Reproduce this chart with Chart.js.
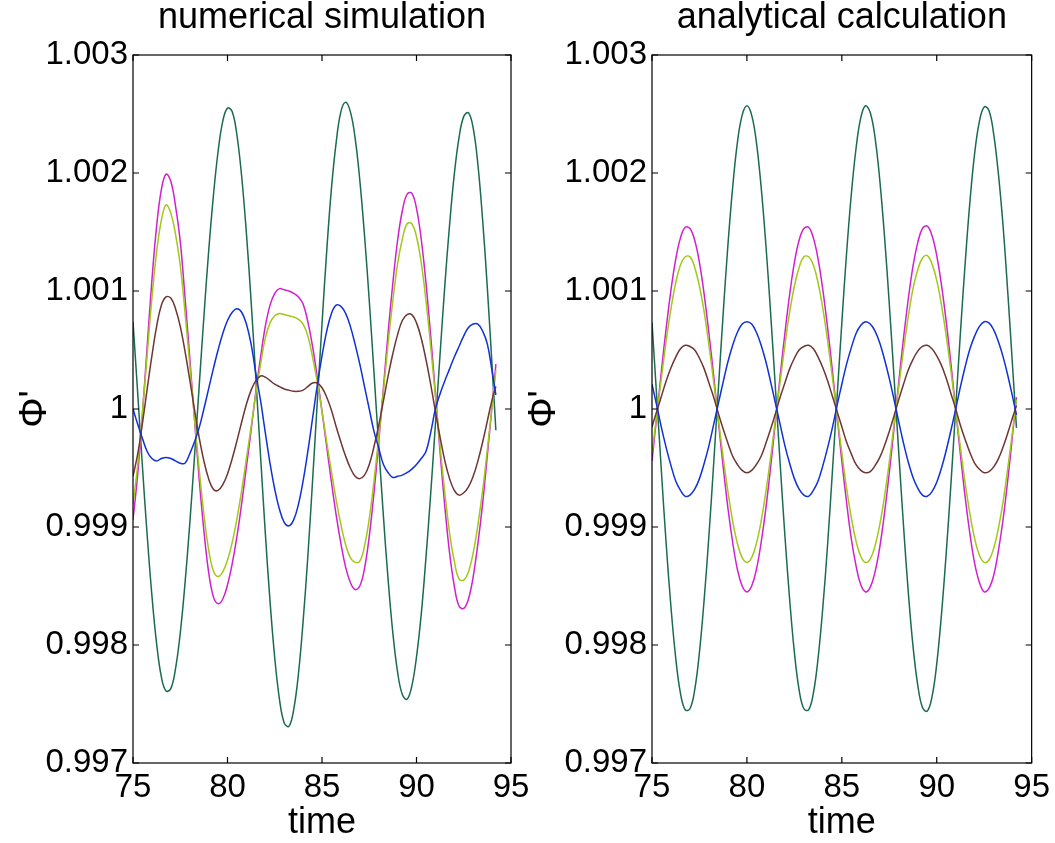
<!DOCTYPE html>
<html>
<head>
<meta charset="utf-8">
<script src="https://cdn.jsdelivr.net/npm/chart.js@4"></script>
<style>
  body { margin: 0; background: #fff; }
  #wrap { position: relative; width: 1055px; height: 843px; overflow: hidden; }
  canvas { position: absolute; top: 0; }
  #numChart { left: 0; }
  #anaChart { left: 520px; }
</style>
</head>
<body>
<div id="wrap">
  <canvas id="numChart" width="540" height="843"></canvas>
  <canvas id="anaChart" width="535" height="843"></canvas>
</div>
<script>
// time grid shared by every curve
const time = [75, 75.25, 75.5, 75.75, 76, 76.25, 76.5, 76.75, 77, 77.25, 77.5, 77.75, 78, 78.25, 78.5, 78.75, 79, 79.25, 79.5, 79.75, 80,
  80.25, 80.5, 80.75, 81, 81.25, 81.5, 81.75, 82, 82.25, 82.5, 82.75, 83, 83.25, 83.5, 83.75, 84, 84.25, 84.5, 84.75, 85,
  85.25, 85.5, 85.75, 86, 86.25, 86.5, 86.75, 87, 87.25, 87.5, 87.75, 88, 88.25, 88.5, 88.75, 89, 89.25, 89.5, 89.75, 90,
  90.25, 90.5, 90.75, 91, 91.25, 91.5, 91.75, 92, 92.25, 92.5, 92.75, 93, 93.25, 93.5, 93.75, 94, 94.2];

const xTickValues = [75, 80, 85, 90, 95];
const xTickLabels = ['75', '80', '85', '90', '95'];
const yTickValues = [0.997, 0.998, 0.999, 1, 1.001, 1.002, 1.003];
const yTickLabels = ['0.997', '0.998', '0.999', '1', '1.001', '1.002', '1.003'];

// numerical simulation
const numGreen = [1.00074, 1.00013, 0.99951, 0.99893, 0.99842, 0.99801, 0.99773, 0.99761, 0.99763, 0.99780, 0.99810, 0.99852, 0.99902, 0.99959, 1.00019, 1.00078, 1.00133, 1.00180, 1.00218, 1.00244, 1.00255,
  1.00252, 1.00232, 1.00197, 1.00149, 1.00091, 1.00026, 0.99960, 0.99895, 0.99837, 0.99789, 0.99754, 0.99734, 0.99731, 0.99745, 0.99775, 0.99820, 0.99875, 0.99939, 1.00006, 1.00072,
  1.00134, 1.00187, 1.00226, 1.00252, 1.00260, 1.00252, 1.00230, 1.00194, 1.00147, 1.00092, 1.00031, 0.99969, 0.99909, 0.99855, 0.99810, 0.99777, 0.99758, 0.99754, 0.99765, 0.99790,
  0.99826, 0.99874, 0.99928, 0.99987, 1.00047, 1.00105, 1.00156, 1.00199, 1.00230, 1.00248, 1.00251, 1.00238, 1.00207, 1.00160, 1.00102, 1.00036, 0.99982];
const numMagenta = [0.99906, 0.99945, 0.99996, 1.00053, 1.00109, 1.00155, 1.00186, 1.00199, 1.00193, 1.00172, 1.00142, 1.00095, 1.00044, 0.99992, 0.99941, 0.99897, 0.99862, 0.99841, 0.99835, 0.99839, 0.99851,
  0.99869, 0.99892, 0.99920, 0.99951, 0.99982, 1.00015, 1.00044, 1.00070, 1.00088, 1.00098, 1.00102, 1.00101, 1.00100, 1.00098, 1.00095, 1.00089, 1.00074, 1.00053, 1.00027, 0.99998,
  0.99968, 0.99938, 0.99910, 0.99886, 0.99866, 0.99853, 0.99847, 0.99850, 0.99865, 0.99892, 0.99929, 0.99972, 1.00018, 1.00065, 1.00107, 1.00143, 1.00168, 1.00182, 1.00183, 1.00170,
  1.00144, 1.00107, 1.00062, 1.00013, 0.99963, 0.99917, 0.99878, 0.99850, 0.99833, 0.99831, 0.99839, 0.99858, 0.99886, 0.99920, 0.99961, 1.00003, 1.00038];
const numYellow = [0.99919, 0.99953, 0.99997, 1.00046, 1.00094, 1.00133, 1.00160, 1.00173, 1.00166, 1.00148, 1.00122, 1.00082, 1.00038, 0.99993, 0.99949, 0.99911, 0.99881, 0.99863, 0.99858, 0.99862, 0.99872,
  0.99887, 0.99907, 0.99931, 0.99958, 0.99985, 1.00013, 1.00038, 1.00060, 1.00073, 1.00079, 1.00081, 1.00080, 1.00079, 1.00078, 1.00076, 1.00072, 1.00062, 1.00044, 1.00023, 0.99998,
  0.99972, 0.99947, 0.99923, 0.99902, 0.99885, 0.99874, 0.99870, 0.99871, 0.99884, 0.99907, 0.99939, 0.99976, 1.00015, 1.00056, 1.00092, 1.00123, 1.00144, 1.00157, 1.00157, 1.00146,
  1.00124, 1.00092, 1.00053, 1.00011, 0.99968, 0.99929, 0.99895, 0.99871, 0.99856, 0.99855, 0.99862, 0.99878, 0.99902, 0.99931, 0.99966, 1.00003, 1.00033];
const numBrown = [0.99943, 0.99962, 0.99988, 1.00017, 1.00045, 1.00070, 1.00088, 1.00095, 1.00094, 1.00085, 1.00070, 1.00049, 1.00025, 1.00000, 0.99976, 0.99956, 0.99941, 0.99932, 0.99931, 0.99936, 0.99945,
  0.99958, 0.99973, 0.99989, 1.00004, 1.00016, 1.00024, 1.00028, 1.00027, 1.00024, 1.00021, 1.00019, 1.00017, 1.00016, 1.00015, 1.00015, 1.00016, 1.00019, 1.00022, 1.00022, 1.00018,
  1.00010, 0.99999, 0.99985, 0.99972, 0.99960, 0.99950, 0.99943, 0.99941, 0.99944, 0.99953, 0.99968, 0.99986, 1.00007, 1.00028, 1.00047, 1.00063, 1.00075, 1.00080, 1.00080, 1.00073,
  1.00060, 1.00042, 1.00021, 0.99998, 0.99976, 0.99956, 0.99941, 0.99931, 0.99927, 0.99929, 0.99934, 0.99943, 0.99956, 0.99972, 0.99990, 1.00008, 1.00019];
const numBlue = [1.00000, 0.99987, 0.99975, 0.99964, 0.99958, 0.99956, 0.99958, 0.99959, 0.99958, 0.99956, 0.99954, 0.99954, 0.99962, 0.99972, 0.99984, 1.00000, 1.00017, 1.00034, 1.00050, 1.00064, 1.00075,
  1.00082, 1.00085, 1.00082, 1.00072, 1.00055, 1.00030, 1.00007, 0.99980, 0.99954, 0.99932, 0.99915, 0.99904, 0.99901, 0.99906, 0.99919, 0.99939, 0.99964, 0.99992, 1.00020, 1.00045,
  1.00066, 1.00081, 1.00088, 1.00087, 1.00081, 1.00070, 1.00055, 1.00038, 1.00019, 1.00000, 0.99981, 0.99967, 0.99953, 0.99946, 0.99942, 0.99943, 0.99944, 0.99946, 0.99949, 0.99953,
  0.99958, 0.99964, 0.99980, 1.00000, 1.00013, 1.00024, 1.00034, 1.00044, 1.00053, 1.00062, 1.00069, 1.00072, 1.00072, 1.00066, 1.00055, 1.00032, 1.00012];

// analytical calculation
const anaGreen = [1.00073, 1.00010, 0.99946, 0.99885, 0.99832, 0.99789, 0.99759, 0.99745, 0.99746, 0.99762, 0.99794, 0.99839, 0.99893, 0.99954, 1.00018, 1.00081, 1.00139, 1.00188, 1.00226, 1.00249, 1.00257,
  1.00249, 1.00226, 1.00188, 1.00139, 1.00081, 1.00018, 0.99954, 0.99893, 0.99839, 0.99794, 0.99762, 0.99746, 0.99745, 0.99759, 0.99789, 0.99832, 0.99885, 0.99946, 1.00010, 1.00073,
  1.00132, 1.00182, 1.00221, 1.00247, 1.00257, 1.00251, 1.00230, 1.00194, 1.00146, 1.00089, 1.00027, 0.99963, 0.99901, 0.99845, 0.99799, 0.99766, 0.99747, 0.99744, 0.99756, 0.99784,
  0.99826, 0.99878, 0.99937, 1.00001, 1.00065, 1.00124, 1.00176, 1.00217, 1.00244, 1.00256, 1.00253, 1.00233, 1.00199, 1.00154, 1.00097, 1.00035, 0.99984];
const anaMagenta = [0.99956, 0.99994, 1.00033, 1.00069, 1.00101, 1.00127, 1.00145, 1.00154, 1.00153, 1.00143, 1.00124, 1.00097, 1.00064, 1.00028, 0.99989, 0.99951, 0.99916, 0.99887, 0.99864, 0.99850, 0.99845,
  0.99850, 0.99864, 0.99887, 0.99916, 0.99951, 0.99989, 1.00028, 1.00064, 1.00097, 1.00124, 1.00143, 1.00153, 1.00154, 1.00145, 1.00127, 1.00101, 1.00069, 1.00033, 0.99994, 0.99956,
  0.99921, 0.99890, 0.99867, 0.99851, 0.99845, 0.99849, 0.99862, 0.99883, 0.99912, 0.99946, 0.99984, 1.00023, 1.00060, 1.00093, 1.00121, 1.00141, 1.00153, 1.00155, 1.00147, 1.00130,
  1.00105, 1.00074, 1.00038, 0.99999, 0.99961, 0.99925, 0.99894, 0.99869, 0.99853, 0.99845, 0.99848, 0.99859, 0.99880, 0.99907, 0.99941, 0.99979, 1.00010];
const anaYellow = [0.99963, 0.99995, 1.00027, 1.00058, 1.00085, 1.00107, 1.00122, 1.00129, 1.00129, 1.00120, 1.00104, 1.00082, 1.00054, 1.00023, 0.99991, 0.99959, 0.99930, 0.99905, 0.99886, 0.99874, 0.99870,
  0.99874, 0.99886, 0.99905, 0.99930, 0.99959, 0.99991, 1.00023, 1.00054, 1.00082, 1.00104, 1.00120, 1.00129, 1.00129, 1.00122, 1.00107, 1.00085, 1.00058, 1.00027, 0.99995, 0.99963,
  0.99933, 0.99908, 0.99888, 0.99875, 0.99870, 0.99873, 0.99884, 0.99902, 0.99926, 0.99955, 0.99987, 1.00019, 1.00050, 1.00078, 1.00102, 1.00118, 1.00128, 1.00130, 1.00123, 1.00109,
  1.00088, 1.00062, 1.00032, 0.99999, 0.99967, 0.99937, 0.99911, 0.99890, 0.99876, 0.99870, 0.99872, 0.99882, 0.99899, 0.99922, 0.99951, 0.99982, 1.00008];
const anaBrown = [0.99985, 0.99998, 1.00011, 1.00024, 1.00035, 1.00044, 1.00051, 1.00054, 1.00053, 1.00050, 1.00043, 1.00034, 1.00022, 1.00010, 0.99996, 0.99983, 0.99971, 0.99960, 0.99953, 0.99948, 0.99946,
  0.99948, 0.99953, 0.99960, 0.99971, 0.99983, 0.99996, 1.00010, 1.00022, 1.00034, 1.00043, 1.00050, 1.00053, 1.00054, 1.00051, 1.00044, 1.00035, 1.00024, 1.00011, 0.99998, 0.99985,
  0.99972, 0.99962, 0.99953, 0.99948, 0.99946, 0.99947, 0.99952, 0.99959, 0.99969, 0.99981, 0.99994, 1.00008, 1.00021, 1.00033, 1.00042, 1.00049, 1.00053, 1.00054, 1.00051, 1.00045,
  1.00037, 1.00026, 1.00013, 1.00000, 0.99986, 0.99974, 0.99963, 0.99954, 0.99949, 0.99946, 0.99947, 0.99951, 0.99958, 0.99968, 0.99980, 0.99993, 1.00003];
const anaBlue = [1.00021, 1.00003, 0.99984, 0.99967, 0.99952, 0.99939, 0.99931, 0.99926, 0.99927, 0.99932, 0.99941, 0.99954, 0.99969, 0.99987, 1.00005, 1.00023, 1.00040, 1.00054, 1.00065, 1.00072, 1.00074,
  1.00072, 1.00065, 1.00054, 1.00040, 1.00023, 1.00005, 0.99987, 0.99969, 0.99954, 0.99941, 0.99932, 0.99927, 0.99926, 0.99931, 0.99939, 0.99952, 0.99967, 0.99984, 1.00003, 1.00021,
  1.00038, 1.00052, 1.00064, 1.00071, 1.00074, 1.00072, 1.00066, 1.00056, 1.00042, 1.00026, 1.00008, 0.99989, 0.99971, 0.99955, 0.99942, 0.99933, 0.99927, 0.99926, 0.99930, 0.99938,
  0.99950, 0.99965, 0.99982, 1.00000, 1.00019, 1.00036, 1.00051, 1.00062, 1.00070, 1.00074, 1.00073, 1.00067, 1.00057, 1.00044, 1.00028, 1.00010, 0.99995];

const colors = {
  green: '#1b6b4e',
  magenta: '#d020d0',
  yellow: '#a2c81a',
  brown: '#6e3535',
  blue: '#1030d8'
};

Chart.defaults.font.family = '"Liberation Sans", Arial, Helvetica, sans-serif';
Chart.defaults.color = '#000';

// box round the plot with inward tick marks, like the original
const framePlugin = {
  id: 'frame',
  afterDatasetsDraw(chart) {
    const { ctx, chartArea: a, scales: { x, y } } = chart;
    const len = 6;
    ctx.save();
    ctx.strokeStyle = '#000';
    ctx.lineWidth = 1.2;
    ctx.strokeRect(a.left, a.top, a.right - a.left, a.bottom - a.top);
    ctx.beginPath();
    xTickValues.forEach(v => {
      const px = x.getPixelForValue(v);
      ctx.moveTo(px, a.bottom); ctx.lineTo(px, a.bottom - len);
      ctx.moveTo(px, a.top); ctx.lineTo(px, a.top + len);
    });
    yTickValues.forEach(v => {
      const py = y.getPixelForValue(v);
      ctx.moveTo(a.left, py); ctx.lineTo(a.left + len, py);
      ctx.moveTo(a.right, py); ctx.lineTo(a.right - len, py);
    });
    ctx.stroke();
    ctx.restore();
  }
};

function line(values, color) {
  return {
    data: time.map((t, i) => ({ x: t, y: values[i] })),
    borderColor: color,
    borderWidth: 1.5,
    pointRadius: 0,
    tension: 0.4,
    fill: false
  };
}

function makeChart(id, title, datasets, yWidth, yTitlePad, padRight) {
  return new Chart(document.getElementById(id), {
    type: 'line',
    data: { datasets },
    options: {
      responsive: false,
      animation: false,
      layout: { padding: { left: 0, right: padRight, top: 0, bottom: 0 } },
      plugins: {
        legend: { display: false },
        tooltip: { enabled: false },
        title: {
          display: true,
          text: title,
          fullSize: false,
          color: '#000',
          font: { size: 36, weight: 'normal', lineHeight: 1 },
          padding: { top: 0, bottom: 19 }
        }
      },
      scales: {
        x: {
          type: 'linear',
          min: 75,
          max: 95,
          afterBuildTicks: s => { s.ticks = xTickValues.map(v => ({ value: v })); },
          afterFit: s => { s.height = 80; },
          grid: { display: false, drawTicks: false },
          border: { display: false },
          ticks: {
            font: { size: 33 },
            padding: 5,
            maxRotation: 0,
            autoSkip: false,
            callback: (v, i) => xTickLabels[i]
          },
          title: { display: true, text: 'time', font: { size: 36, lineHeight: 1 }, padding: { top: 0, bottom: 2 } }
        },
        y: {
          min: 0.997,
          max: 1.003,
          afterBuildTicks: s => { s.ticks = yTickValues.map(v => ({ value: v })); },
          afterFit: s => { s.width = yWidth; },
          grid: { display: false, drawTicks: false },
          border: { display: false },
          ticks: {
            font: { size: 33 },
            padding: 5,
            autoSkip: false,
            callback: (v, i) => yTickLabels[i]
          },
          title: { display: true, text: "Φ'", font: { size: 38 }, padding: { top: yTitlePad, bottom: 0 } }
        }
      }
    },
    plugins: [framePlugin]
  });
}

makeChart('numChart', 'numerical simulation', [
  line(numBlue, colors.blue),
  line(numBrown, colors.brown),
  line(numYellow, colors.yellow),
  line(numMagenta, colors.magenta),
  line(numGreen, colors.green)
], 133, 13, 29);

makeChart('anaChart', 'analytical calculation', [
  line(anaBlue, colors.blue),
  line(anaBrown, colors.brown),
  line(anaYellow, colors.yellow),
  line(anaMagenta, colors.magenta),
  line(anaGreen, colors.green)
], 132, 2, 23);
</script>
</body>
</html>
